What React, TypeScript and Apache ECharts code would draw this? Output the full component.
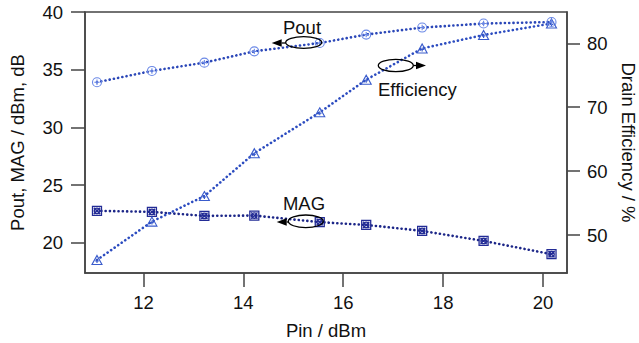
import React, { useEffect, useRef } from "react";
import * as echarts from "echarts";

const pin = [11.07, 12.17, 13.22, 14.22, 15.53, 16.46, 17.58, 18.81, 20.17];
const pout = [33.91, 34.89, 35.61, 36.59, 37.31, 38.04, 38.65, 39.0, 39.13];
const mag = [22.76, 22.67, 22.32, 22.35, 21.78, 21.54, 21.02, 20.15, 19.0];
const efficiency = [46.1, 52.1, 56.1, 62.8, 69.2, 74.3, 79.2, 81.3, 83.1];

const xTicks = [12, 14, 16, 18, 20];
const leftTicks = [20, 25, 30, 35, 40];
const rightTicks = [50, 60, 70, 80];

const FONT = "Liberation Sans, Arial, sans-serif";
const FS = 18.5;

const circlePlus =
  "path://M0,5 A5,5 0 1,1 10,5 A5,5 0 1,1 0,5 Z M5,2 L5,8 M2,5 L8,5";
const squareX =
  "path://M0,0 L10,0 L10,10 L0,10 Z M1.5,1.5 L8.5,8.5 M8.5,1.5 L1.5,8.5 M2,5 A3,3 0 1,1 8,5 A3,3 0 1,1 2,5 Z";
const trianglePlus = "path://M5,0 L10,9 L0,9 Z M5,3.5 L5,7.5 M3.2,5.5 L6.8,5.5";

function pairs(xs: number[], ys: number[]) {
  return xs.map((x, i) => [x, ys[i]]);
}

function ellipse(cx: number, cy: number, rx: number, ry: number) {
  return {
    type: "ellipse",
    shape: { cx, cy, rx, ry },
    style: { fill: "none", stroke: "#000", lineWidth: 1.3 },
    z: 100,
  };
}

function arrow(x0: number, tip: number, y: number) {
  const dir = tip < x0 ? -1 : 1;
  const headBase = tip - dir * 10;
  return [
    {
      type: "line",
      shape: { x1: x0, y1: y, x2: headBase, y2: y },
      style: { stroke: "#000", lineWidth: 1.3 },
      z: 100,
    },
    {
      type: "polygon",
      shape: {
        points: [
          [tip, y],
          [headBase, y - 3.8],
          [headBase, y + 3.8],
        ],
      },
      style: { fill: "#000" },
      z: 100,
    },
  ];
}

function label(text: string, x: number, y: number, align: string) {
  return {
    type: "text",
    x,
    y,
    style: {
      text,
      fill: "#111",
      font: `${FS}px ${FONT}`,
      align,
      verticalAlign: "middle",
    },
    z: 100,
  };
}

export default function App() {
  const ref = useRef<HTMLDivElement>(null);
  useEffect(() => {
    document.body.style.margin = "0";
    const chart = echarts.init(ref.current!, null, { renderer: "svg" });
    const axisText = { color: "#111", fontSize: FS, fontFamily: FONT };
    const dotted = (color: string) => ({
      color,
      width: 2.6,
      type: [0.1, 4.2],
      cap: "round",
    });
    const tickStyle = { color: "#444", width: 1.5 };
    chart.setOption({
      animation: false,
      backgroundColor: "#fff",
      grid: {
        left: 85,
        top: 12,
        right: 72,
        bottom: 70,
        show: true,
        containLabel: false,
        outerBoundsMode: "none",
        borderColor: "#444",
        borderWidth: 1.5,
      },
      xAxis: {
        type: "value",
        min: 10.83,
        max: 20.48,
        name: "Pin / dBm",
        nameLocation: "middle",
        nameGap: 48,
        nameTextStyle: axisText,
        axisLine: { show: true, lineStyle: tickStyle },
        axisTick: { show: true, length: 14, customValues: xTicks, lineStyle: tickStyle },
        axisLabel: { ...axisText, margin: 20, customValues: xTicks },
        splitLine: { show: false },
      },
      yAxis: [
        {
          type: "value",
          min: 17.37,
          max: 40,
          name: "Pout, MAG / dBm, dB",
          nameLocation: "middle",
          nameGap: 58,
          nameTextStyle: axisText,
          axisLine: { show: true, lineStyle: tickStyle },
          axisTick: { show: true, length: 14, customValues: leftTicks, lineStyle: tickStyle },
          axisLabel: { ...axisText, margin: 22, customValues: leftTicks },
          splitLine: { show: false },
        },
        {
          type: "value",
          position: "right",
          min: 44.06,
          max: 84.9,
          name: "Drain Efficiency / %",
          nameLocation: "middle",
          nameGap: 52,
          nameRotate: -90,
          nameTextStyle: axisText,
          axisLine: { show: true, lineStyle: tickStyle },
          axisTick: { show: true, length: 13, customValues: rightTicks, lineStyle: tickStyle },
          axisLabel: { ...axisText, margin: 20, customValues: rightTicks },
          splitLine: { show: false },
        },
      ],
      series: [
        {
          name: "MAG",
          type: "line",
          yAxisIndex: 0,
          data: pairs(pin, mag),
          symbol: squareX,
          symbolSize: 9,
          lineStyle: dotted("#1c2688"),
          itemStyle: { color: "none", borderColor: "#232c96", borderWidth: 1.3 },
        },
        {
          name: "Efficiency",
          type: "line",
          yAxisIndex: 1,
          data: pairs(pin, efficiency),
          symbol: trianglePlus,
          symbolSize: [10, 9],
          lineStyle: dotted("#2c4cc0"),
          itemStyle: { color: "none", borderColor: "#3a5ccc", borderWidth: 1.1 },
        },
        {
          name: "Pout",
          type: "line",
          yAxisIndex: 0,
          data: pairs(pin, pout),
          symbol: circlePlus,
          symbolSize: 9,
          lineStyle: dotted("#2b47b8"),
          itemStyle: { color: "none", borderColor: "#6a88e6", borderWidth: 1.1 },
        },
      ],
      graphic: [
        label("Pout", 302, 27, "center"),
        ellipse(303.7, 42.5, 18, 5.8),
        ...arrow(285.7, 271.7, 43),
        label("Efficiency", 378, 89.5, "left"),
        ellipse(395.8, 65.5, 17.5, 6.2),
        ...arrow(413.3, 426, 65.5),
        label("MAG", 304, 203.5, "center"),
        ellipse(305.8, 221.3, 17.5, 6.3),
        ...arrow(288.3, 276.7, 222),
      ],
    });
    return () => chart.dispose();
  }, []);
  return <div ref={ref} style={{ width: 639, height: 343 }} />;
}
